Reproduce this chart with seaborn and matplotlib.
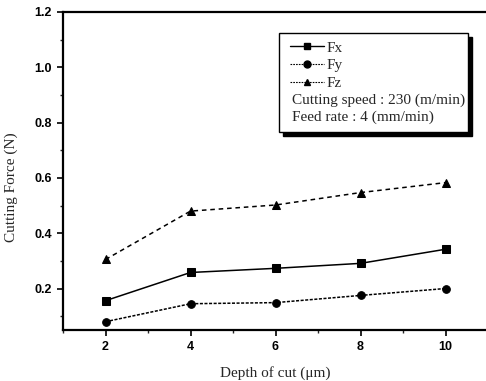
import numpy as np
import pandas as pd
import matplotlib
matplotlib.use("Agg")
import matplotlib.pyplot as plt
from matplotlib.patches import Rectangle
from matplotlib.lines import Line2D
from matplotlib.ticker import MultipleLocator
import seaborn as sns

# Cutting force components versus depth of cut
depth = [2, 4, 6, 8, 10]
fx = [0.156, 0.258, 0.273, 0.291, 0.342]
fy = [0.080, 0.145, 0.149, 0.175, 0.200]
fz = [0.305, 0.480, 0.502, 0.547, 0.583]
series_names = ["Fx", "Fy", "Fz"]
note_lines = ["Cutting speed : 230 (m/min)", "Feed rate : 4 (mm/min)"]

df = pd.DataFrame({
    "depth": depth * 3,
    "force": fx + fy + fz,
    "component": [n for n in series_names for _ in depth],
})

sns.set_style("ticks")
plt.rcParams["font.family"] = ["Liberation Sans", "DejaVu Sans"]

fig = plt.figure(figsize=(4.86, 3.81), dpi=100)
ax = fig.add_axes([63 / 486, 51 / 381, 425 / 486, 318 / 381])

markers = {"Fx": "s", "Fy": "o", "Fz": "^"}
dashes = {"Fx": "", "Fy": (2.0, 1.0), "Fz": (3.0, 2.5)}
palette = {n: "black" for n in series_names}

sns.lineplot(data=df, x="depth", y="force", hue="component", style="component",
             markers=markers, dashes=dashes, palette=palette, markersize=5.5,
             markeredgecolor="black", linewidth=1.1, legend=False, ax=ax)

ax.set_xlim(1, 11)
ax.set_ylim(0.05, 1.2)
ax.xaxis.set_major_locator(MultipleLocator(2))
ax.xaxis.set_minor_locator(MultipleLocator(1))
ax.yaxis.set_minor_locator(MultipleLocator(0.1))
ax.set_yticks([0.2, 0.4, 0.6, 0.8, 1.0, 1.2])
ax.set_yticklabels(["0.2", "0.4", "0.6", "0.8", "1.0", "1.2"])

ax.tick_params(which="major", direction="out", length=4, width=1.2,
               labelsize=9, colors="black", pad=4)
ax.tick_params(which="minor", direction="out", length=2.5, width=1.0)
for lab in ax.get_xticklabels() + ax.get_yticklabels():
    lab.set_fontweight("bold")

for side in ["left", "bottom", "top", "right"]:
    ax.spines[side].set_visible(True)
    ax.spines[side].set_linewidth(1.6)
    ax.spines[side].set_color("black")

serif = ["Liberation Serif", "DejaVu Serif"]
ax.set_xlabel("Depth of cut (\u03bcm)", fontsize=11, family=serif, labelpad=9)
ax.set_ylabel("Cutting Force (N)", fontsize=11, family=serif)
ax.yaxis.set_label_coords(-0.106, 0.45)

# Legend box with drop shadow
bx0, by0 = (279 - 63) / 425, (330 - 132) / 318
bw, bh = (468 - 279) / 425, (132 - 33) / 318
sx, sy = 4 / 425, 4 / 318
ax.add_patch(Rectangle((bx0 + sx, by0 - sy), bw, bh, transform=ax.transAxes,
                       facecolor="black", edgecolor="black", zorder=5))
ax.add_patch(Rectangle((bx0, by0), bw, bh, transform=ax.transAxes,
                       facecolor="white", edgecolor="black", linewidth=1.0, zorder=6))

handles = [
    Line2D([], [], color="black", linestyle="-", linewidth=1.0, marker="s", markersize=5),
    Line2D([], [], color="black", linestyle=(0, (1.5, 1.0)), linewidth=0.8, marker="o", markersize=5),
    Line2D([], [], color="black", linestyle=(0, (1.5, 1.0)), linewidth=0.8, marker="^", markersize=5),
]
leg = ax.legend(handles, series_names, loc="upper left",
                bbox_to_anchor=((290 - 63) / 425, (330 - 41) / 318),
                frameon=False, handlelength=2.2, handletextpad=0.2,
                labelspacing=0.26, borderaxespad=0, borderpad=0,
                prop={"family": serif, "size": 11})
leg.set_zorder(7)

for i, txt in enumerate(note_lines):
    ax.text((292 - 63) / 425, (330 - (100 + 17 * i)) / 318, txt,
            transform=ax.transAxes, ha="left", va="center",
            fontsize=11, family=serif, zorder=8)

fig.savefig("out.png", dpi=100)
